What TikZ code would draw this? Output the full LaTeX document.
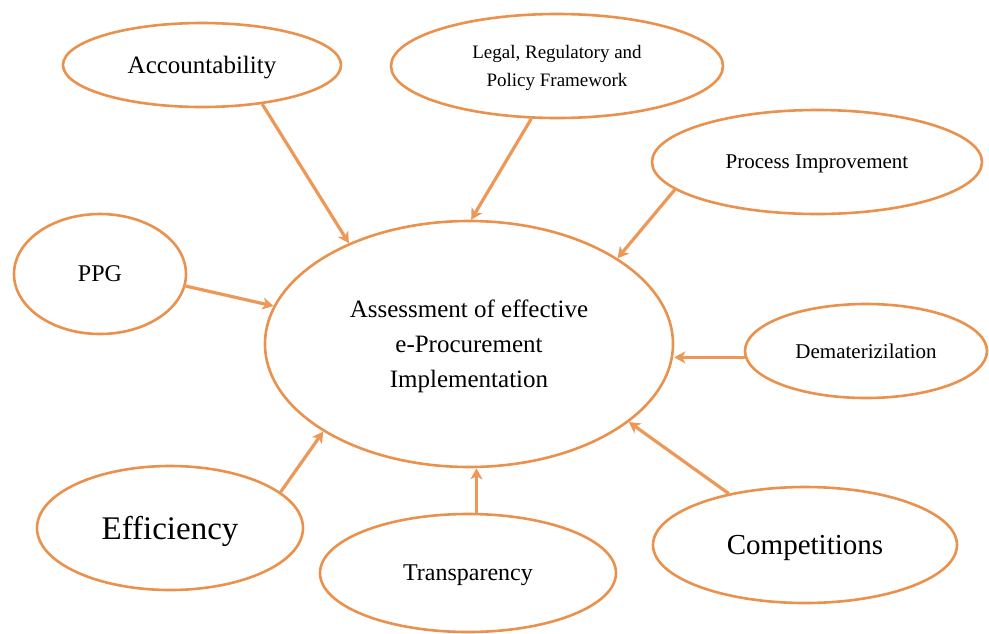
\documentclass[tikz,border=0pt]{standalone}
\usepackage{fontspec}
\setmainfont{Liberation Serif}
\usetikzlibrary{shapes.geometric,arrows.meta}
\definecolor{ringorange}{RGB}{233,145,77}
\definecolor{arroworange}{RGB}{238,152,88}
\newcommand{\fs}[2]{\fontsize{#1}{#2}\selectfont}
\tikzset{
  bubble/.style={ellipse, draw=ringorange, line width=2.6pt, inner sep=0pt,
    align=center, text=black, text depth=0pt},
  feed/.style={draw=arroworange, line width=3.2pt,
    -{Stealth[length=11pt,width=12pt,inset=3pt]}}
}
\begin{document}
\begin{tikzpicture}[x=1pt,y=-1pt]
\useasboundingbox (0,0) rectangle (989,633);
% central concept
\node[bubble, minimum width=408, minimum height=246, font=\fs{25}{35}]
  (main) at (469,344)
  {Assessment of effective\\e-Procurement\\Implementation};
% surrounding factors
\node[bubble, minimum width=278, minimum height=84, font=\fs{25}{30}]
  (acc) at (202,65) {Accountability};
\node[bubble, minimum width=332, minimum height=104, font=\fs{19}{28}]
  (legal) at (557,66) {Legal,\ Regulatory\ and\\Policy Framework};
\node[bubble, minimum width=330, minimum height=104, font=\fs{21}{26}]
  (proc) at (817,162) {Process\ Improvement};
\node[bubble, minimum width=172, minimum height=120, font=\fs{24}{28}]
  (ppg) at (100,274) {PPG};
\node[bubble, minimum width=242, minimum height=94, font=\fs{21}{26}]
  (demat) at (866,351) {Dematerizilation};
\node[bubble, minimum width=266, minimum height=124, font=\fs{33}{38}]
  (eff) at (170,528) {Efficiency};
\node[bubble, minimum width=296, minimum height=118, font=\fs{24}{28}]
  (trans) at (468,573) {Transparency};
\node[bubble, minimum width=304, minimum height=116, font=\fs{29}{34}]
  (comp) at (805,545) {Competitions};
% influences pointing at the central concept
\draw[feed] (acc.-33.9)   -- (main.140.9);
\draw[feed] (legal.244.3) -- (main.89);
\draw[feed] (proc.191.8)  -- (main.30.8);
\draw[feed] (ppg.-8.6)    -- (main.169.4);
\draw[feed] (demat.183.3) -- (demat.183.3 -| main.east);
\draw[feed] (comp.146.5)  -- (main.-26.6);
\draw[feed] (trans.82.4)  -- (trans.82.4 |- main.south);
\draw[feed] (eff.18.7)    -- (main.211.4);
\end{tikzpicture}
\end{document}
